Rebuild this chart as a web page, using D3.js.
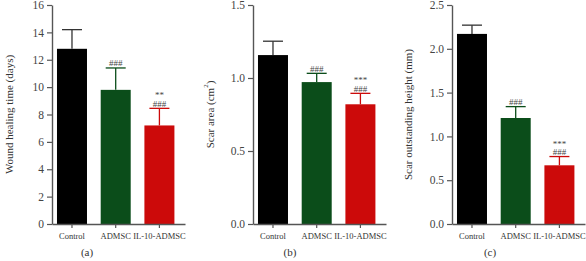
<!DOCTYPE html>
<html>
<head>
<meta charset="utf-8">
<script src="https://cdn.jsdelivr.net/npm/d3@7"></script>
<style>
  body { margin: 0; background: #fff; }
  svg text { font-family: "Liberation Serif", "DejaVu Serif", serif; }
</style>
</head>
<body>
<div id="chart"></div>
<script>
// Datos de los tres paneles
const groups = ["Control", "ADMSC", "IL-10-ADMSC"];
const colores = ["#000000", "#0b4d1a", "#cc0a0a"];

const healingMean = [12.8, 9.8, 7.2];
const healingErr = [1.4, 1.6, 1.25];
const healingTicks = [0, 2, 4, 6, 8, 10, 12, 14, 16];
const healingMarks = ["", "###", "**\n###"];

const areaMean = [1.157, 0.972, 0.82];
const areaErr = [0.095, 0.06, 0.075];
const areaTicks = [0, 0.5, 1.0, 1.5];
const areaMarks = ["", "###", "***\n###"];

const heightMean = [2.17, 1.21, 0.67];
const heightErr = [0.1, 0.13, 0.1];
const heightTicks = [0, 0.5, 1.0, 1.5, 2.0, 2.5];
const heightMarks = ["", "###", "***\n###"];

const WIDTH = 586;
const HEIGHT = 261;

const svg = d3.select("#chart")
  .append("svg")
  .attr("width", WIDTH)
  .attr("height", HEIGHT);

const paneles = [
  { axisX: 52, mean: healingMean, err: healingErr, ticks: healingTicks, marks: healingMarks,
    fmt: d3.format("d"), ylabel: "Wound healing time (days)", labelX: 9, tag: "(a)", tagX: 87 },
  { axisX: 253, mean: areaMean, err: areaErr, ticks: areaTicks, marks: areaMarks,
    fmt: d3.format(".1f"), ylabel: "Scar area (cm", sup: "2", ylabelEnd: ")", labelX: 210, tag: "(b)", tagX: 290 },
  { axisX: 452, mean: heightMean, err: heightErr, ticks: heightTicks, marks: heightMarks,
    fmt: d3.format(".1f"), ylabel: "Scar outstanding height (mm)", labelX: 408, tag: "(c)", tagX: 490 }
];

const yTop = 5;
const yBottom = 224;
const axisGray = "#555";

paneles.forEach(p => {
  const g = svg.append("g");

  const x = d3.scaleBand()
    .domain(groups)
    .range([p.axisX, p.axisX + 133])
    .paddingInner(0.3135)
    .paddingOuter(0.178)
    .align(0.32);

  const y = d3.scaleLinear()
    .domain([0, d3.max(p.ticks)])
    .range([yBottom, yTop]);

  // Barras
  g.selectAll("rect")
    .data(groups)
    .join("rect")
    .attr("x", d => x(d))
    .attr("y", (d, i) => y(p.mean[i]))
    .attr("width", x.bandwidth())
    .attr("height", (d, i) => yBottom - y(p.mean[i]))
    .attr("fill", (d, i) => colores[i]);

  // Barras de error (solo hacia arriba)
  const eb = g.selectAll("g.err")
    .data(groups)
    .join("g")
    .attr("class", "err")
    .attr("stroke", (d, i) => i === 0 ? "#333" : colores[i])
    .attr("stroke-width", 1.3);
  eb.append("line")
    .attr("x1", d => x(d) + x.bandwidth() / 2)
    .attr("x2", d => x(d) + x.bandwidth() / 2)
    .attr("y1", (d, i) => y(p.mean[i]))
    .attr("y2", (d, i) => y(p.mean[i] + p.err[i]));
  eb.append("line")
    .attr("x1", d => x(d) + x.bandwidth() / 2 - 10)
    .attr("x2", d => x(d) + x.bandwidth() / 2 + 10)
    .attr("y1", (d, i) => y(p.mean[i] + p.err[i]))
    .attr("y2", (d, i) => y(p.mean[i] + p.err[i]));

  // Marcas de significancia
  groups.forEach((d, i) => {
    if (!p.marks[i]) return;
    const lineas = p.marks[i].split("\n").reverse();
    lineas.forEach((t, k) => {
      g.append("text")
        .attr("x", x(d) + x.bandwidth() / 2)
        .attr("y", y(p.mean[i] + p.err[i]) - 1.5 - k * 8.5)
        .attr("text-anchor", "middle")
        .attr("font-size", "9px")
        .attr("fill", "#444")
        .text(t);
    });
  });

  // Eje Y
  const yaxis = g.append("g")
    .attr("transform", `translate(${p.axisX},0)`)
    .call(d3.axisLeft(y).tickValues(p.ticks).tickFormat(p.fmt).tickSize(5).tickSizeOuter(0));
  yaxis.select(".domain").attr("stroke", axisGray).attr("stroke-width", 1.4);
  yaxis.selectAll(".tick line").attr("stroke", axisGray).attr("stroke-width", 1.2);
  yaxis.selectAll(".tick text")
    .attr("font-family", "Liberation Serif, serif")
    .attr("font-size", "11.5px")
    .attr("fill", "#444")
    .attr("x", -8);

  // Eje X
  const xaxis = g.append("g")
    .attr("transform", `translate(0,${yBottom})`)
    .call(d3.axisBottom(x).tickSize(4).tickSizeOuter(0));
  xaxis.select(".domain").attr("stroke", axisGray).attr("stroke-width", 1.4);
  xaxis.selectAll(".tick line").attr("stroke", axisGray).attr("stroke-width", 1.2);
  xaxis.selectAll(".tick text")
    .attr("font-family", "Liberation Serif, serif")
    .attr("font-size", "8.5px")
    .attr("fill", "#333")
    .attr("y", 9);

  // Título del eje Y
  const yl = g.append("text")
    .attr("transform", `translate(${p.labelX},${(yTop + yBottom) / 2}) rotate(-90)`)
    .attr("text-anchor", "middle")
    .attr("dominant-baseline", "central")
    .attr("font-size", "11px")
    .attr("fill", "#333")
    .text(p.ylabel);
  if (p.sup) {
    yl.append("tspan").attr("dy", -4).attr("font-size", "7px").text(p.sup);
    yl.append("tspan").attr("dy", 4).text(p.ylabelEnd);
  }

  // Etiqueta del panel
  g.append("text")
    .attr("x", p.tagX)
    .attr("y", 256)
    .attr("text-anchor", "middle")
    .attr("font-size", "11px")
    .attr("fill", "#333")
    .text(p.tag);
});
</script>
</body>
</html>
